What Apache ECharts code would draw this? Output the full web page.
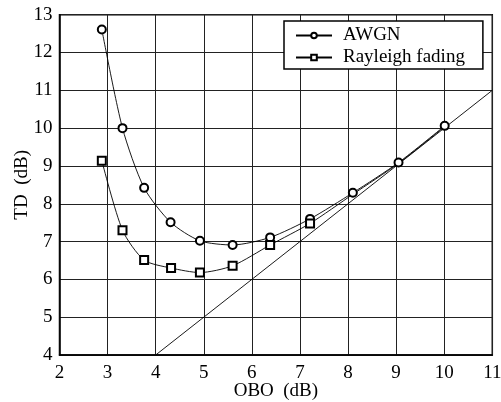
<!DOCTYPE html>
<html><head><meta charset="utf-8">
<script src="https://cdn.jsdelivr.net/npm/echarts@6/dist/echarts.min.js"></script>
<style>html,body{margin:0;padding:0;background:#fff}#c{width:501px;height:402px}</style>
</head><body><div id="c"></div>
<script>
var xTicks = [2, 3, 4, 5, 6, 7, 8, 9, 10, 11];
var yTicks = [4, 5, 6, 7, 8, 9, 10, 11, 12, 13];
var awgnX = [2.88, 3.31, 3.76, 4.31, 4.92, 5.60, 6.38, 7.21, 8.10, 9.05, 10.01];
var awgnY = [12.61, 10.0, 8.42, 7.51, 7.02, 6.91, 7.11, 7.60, 8.29, 9.09, 10.06];
var rayX = [2.88, 3.31, 3.76, 4.32, 4.92, 5.60, 6.38, 7.21, 8.10, 9.05, 10.01];
var rayY = [9.14, 7.30, 6.51, 6.30, 6.18, 6.36, 6.91, 7.48, 8.25, 9.07, 10.04];
var rayMarked = 8; // squares shown on first 8 points
var refX = [4, 11];
var refY = [4, 11];

var font = 'Liberation Serif';
function pairs(xs, ys) { return xs.map(function (x, i) { return [x, ys[i]]; }); }
var rayData = pairs(rayX, rayY).map(function (p, i) {
  return i < rayMarked ? { value: p } : { value: p, symbol: 'none' };
});

var chart = echarts.init(document.getElementById('c'));
chart.setOption({
  animation: false,
  textStyle: { fontFamily: font, color: '#000' },
  grid: { left: 59.5, right: 8.7, top: 14.7, bottom: 47, outerBoundsMode: 'none', containLabel: false,
          show: true, borderColor: '#000', borderWidth: 1.5 },
  legend: {
    orient: 'vertical', left: 284, top: 21,
    backgroundColor: '#fff', borderColor: '#000', borderWidth: 1.5,
    padding: [5, 18, 2, 11], itemGap: 3, itemWidth: 36, itemHeight: 7,
    textStyle: { fontFamily: font, fontSize: 19, color: '#000', padding: [0, 0, 0, 6] },
    data: ['AWGN', 'Rayleigh fading']
  },
  xAxis: {
    type: 'value', min: xTicks[0], max: xTicks[xTicks.length - 1], interval: 1,
    name: 'OBO  (dB)', nameLocation: 'middle', nameGap: 27, nameMoveOverlap: false,
    nameTextStyle: { fontFamily: font, fontSize: 19, color: '#000' },
    axisLine: { lineStyle: { color: '#000', width: 1.5 } },
    axisTick: { show: false },
    axisLabel: { fontFamily: font, fontSize: 19, color: '#000', margin: 9 },
    splitLine: { show: true, lineStyle: { color: '#222', width: 1 } }
  },
  yAxis: {
    type: 'value', min: yTicks[0], max: yTicks[yTicks.length - 1], interval: 1,
    name: 'TD  (dB)', nameLocation: 'middle', nameGap: 28, nameRotate: 90, nameMoveOverlap: false,
    nameTextStyle: { fontFamily: font, fontSize: 19, color: '#000' },
    axisLine: { show: true, lineStyle: { color: '#000', width: 1.5 } },
    axisTick: { show: false },
    axisLabel: { fontFamily: font, fontSize: 19, color: '#000', margin: 7 },
    splitLine: { show: true, lineStyle: { color: '#222', width: 1 } }
  },
  series: [
    {
      name: 'reference', type: 'line', data: pairs(refX, refY), symbol: 'none',
      lineStyle: { color: '#000', width: 0.9 }, itemStyle: { color: '#000' }, silent: true
    },
    {
      name: 'AWGN', type: 'line', data: pairs(awgnX, awgnY), smooth: 0.25,
      symbol: 'emptyCircle', symbolSize: 8,
      lineStyle: { color: '#000', width: 0.9 }, itemStyle: { color: '#000', borderColor: '#000', borderWidth: 0.9 }
    },
    {
      name: 'Rayleigh fading', type: 'line', data: rayData, smooth: 0.25,
      symbol: 'emptyRect', symbolSize: 8,
      lineStyle: { color: '#000', width: 0.9 }, itemStyle: { color: '#000', borderColor: '#000', borderWidth: 0.9 }
    }
  ]
});
</script></body></html>
